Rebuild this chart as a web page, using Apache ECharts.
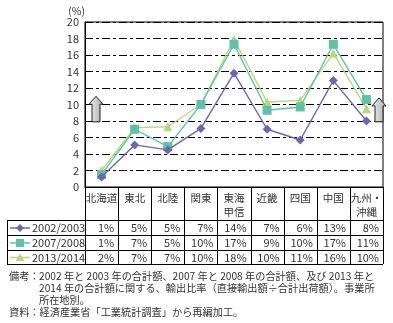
<!DOCTYPE html>
<html><head><meta charset="utf-8">
<script src="https://cdn.jsdelivr.net/npm/echarts@6/dist/echarts.min.js"></script>
<style>html,body{margin:0;padding:0;background:#fff}#c{width:393px;height:323px}</style>
</head><body><div id="c"></div>
<script>
var categories = ['北海道','東北','北陸','関東','東海\n甲信','近畿','四国','中国','九州・\n沖縄'];
var seriesNames = ['2002/2003','2007/2008','2013/2014'];
var s2002 = [1.2, 5.1, 4.5, 7.1, 13.8, 7.0, 5.7, 12.9, 8.0];
var s2007 = [1.5, 7.0, 4.9, 10.0, 17.3, 9.3, 9.7, 17.3, 10.6];
var s2013 = [2.0, 7.2, 7.3, 10.0, 17.9, 10.3, 10.5, 16.2, 9.5];
var t2002 = ['1%','5%','5%','7%','14%','7%','6%','13%','8%'];
var t2007 = ['1%','7%','5%','10%','17%','9%','10%','17%','11%'];
var t2013 = ['2%','7%','7%','10%','18%','10%','11%','16%','10%'];
var yTicks = [0,2,4,6,8,10,12,14,16,18,20];
var notes = [
  '2002 年と 2003 年の合計額、2007 年と 2008 年の合計額、及び 2013 年と',
  '2014 年の合計額に関する、輸出比率（直接輸出額÷合計出荷額）。事業所',
  '所在地別。'
];
var source = '資料：経済産業省「工業統計調査」から再編加工。';

var colors = ['#6f66b3','#5fc2a6','#b7d87c'];
var symbols = ['diamond','rect','triangle'];
var symbolSizes = [9,9,9];
var FONT = '"Noto Sans CJK JP", "Noto Sans", sans-serif';
var allSeries = [s2002, s2007, s2013];
var allTable = [t2002, t2007, t2013];

var chart = echarts.init(document.getElementById('c'), null, {renderer:'canvas'});
var option = {
  animation: false,
  textStyle: {fontFamily: FONT},
  grid: {left:85, right:10, top:22, bottom:136, show:true, borderColor:'#000', borderWidth:1, backgroundColor:'transparent'},
  xAxis: {
    type:'category', data: categories, boundaryGap: true,
    axisLine:{show:true, lineStyle:{color:'#000', width:1}},
    axisTick:{show:false},
    axisLabel:{show:true, interval:0, color:'#333', fontSize:10.5, fontFamily:FONT, margin:4, lineHeight:14, align:'center', verticalAlign:'top'}
  },
  yAxis: {
    type:'value', min:0, max:20, interval:2,
    axisLine:{show:true, lineStyle:{color:'#000'}},
    axisTick:{show:false},
    axisLabel:{color:'#333', fontSize:11, fontFamily:FONT, margin:6, formatter:function(v){return yTicks.indexOf(v)>=0?String(v):'';}},
    splitLine:{show:true, lineStyle:{color:'#000', width:1, type:[8,3,3,3]}},
    name:'(%)', nameLocation:'end', nameGap:6,
    nameTextStyle:{color:'#333', fontSize:10.5, fontFamily:FONT, align:'right', padding:[0,0,0,0]}
  },
  series: allSeries.map(function(d,i){
    return {
      name: seriesNames[i], type:'line', data:d, symbol:symbols[i], symbolSize:symbolSizes[i],
      lineStyle:{color:colors[i], width:1.4}, itemStyle:{color:colors[i]}, z: 3 - i + 2
    };
  })
};
chart.setOption(option);

function px(i){ return chart.convertToPixel({xAxisIndex:0}, i); }
function py(v){ return chart.convertToPixel({yAxisIndex:0}, v); }
var band = px(1) - px(0);
var x0 = px(0) - band/2;
var xEnd = px(categories.length-1) + band/2;
var yAxis0 = py(0);
var tableLeft = 7;
var rowTops = [yAxis0 + 33, yAxis0 + 48, yAxis0 + 63, yAxis0 + 77];
var g = [];
var lineStyle = {stroke:'#000', lineWidth:1};
for (var i = 0; i <= categories.length; i++) {
  var xx = Math.round(x0 + i*band) + 0.5;
  g.push({type:'line', shape:{x1:xx, y1:yAxis0, x2:xx, y2:rowTops[3]}, style:lineStyle, silent:true});
}
g.push({type:'line', shape:{x1:tableLeft+0.5, y1:rowTops[0], x2:tableLeft+0.5, y2:rowTops[3]}, style:lineStyle});
rowTops.forEach(function(y){
  var yy = Math.round(y)+0.5;
  g.push({type:'line', shape:{x1:tableLeft, y1:yy, x2:xEnd, y2:yy}, style:lineStyle});
});
for (var r = 0; r < 3; r++) {
  var cy = (rowTops[r] + rowTops[r+1]) / 2 + 0.5;
  g.push({type:'line', shape:{x1:10, y1:cy, x2:30, y2:cy}, style:{stroke:colors[r], lineWidth:1.5}});
  var sym;
  if (r === 0) sym = {type:'polygon', shape:{points:[[20,cy-4],[24,cy],[20,cy+4],[16,cy]]}, style:{fill:colors[r]}};
  else if (r === 1) sym = {type:'rect', shape:{x:16, y:cy-4, width:8, height:8}, style:{fill:colors[r]}};
  else sym = {type:'polygon', shape:{points:[[20,cy-4],[24.5,cy+3.5],[15.5,cy+3.5]]}, style:{fill:colors[r]}};
  g.push(sym);
  g.push({type:'text', style:{text:seriesNames[r], x:32, y:cy, fill:'#333', font:'11px '+FONT, textVerticalAlign:'middle'}});
  for (var c = 0; c < categories.length; c++) {
    g.push({type:'text', style:{text:allTable[r][c], x:x0 + (c+1)*band - 4, y:cy, fill:'#333', font:'11px '+FONT, textAlign:'right', textVerticalAlign:'middle'}});
  }
}
function arrow(cx, yTipVal, yBaseVal){
  var yt = py(yTipVal), yb = py(yBaseVal), yh = yt + 8;
  return {type:'polygon', shape:{points:[[cx,yt],[cx+7,yh],[cx+4,yh],[cx+4,yb],[cx-4,yb],[cx-4,yh],[cx-7,yh]]},
    style:{fill:new echarts.graphic.LinearGradient(0,0,1,0,[{offset:0,color:'#f2f2f2'},{offset:1,color:'#a8a8a8'}]), stroke:'#222', lineWidth:1}, z:100};
}
g.push(arrow(px(0) - band/2 + 11, 11.0, 7.9));
g.push(arrow(xEnd - 4, 10.8, 7.9));
var ny = 276;
var NF = '10.2px ' + FONT;
g.push({type:'text', style:{text:'備考：', x:9, y:ny, fill:'#333', font:NF, textVerticalAlign:'middle'}});
notes.forEach(function(t, k){
  g.push({type:'text', style:{text:t, x:39, y:ny + k*12, fill:'#333', font:NF, textVerticalAlign:'middle'}});
});
g.push({type:'text', style:{text:source, x:9, y:ny + 36, fill:'#333', font:NF, textVerticalAlign:'middle'}});
chart.setOption({graphic:{elements:g}});
</script></body></html>
